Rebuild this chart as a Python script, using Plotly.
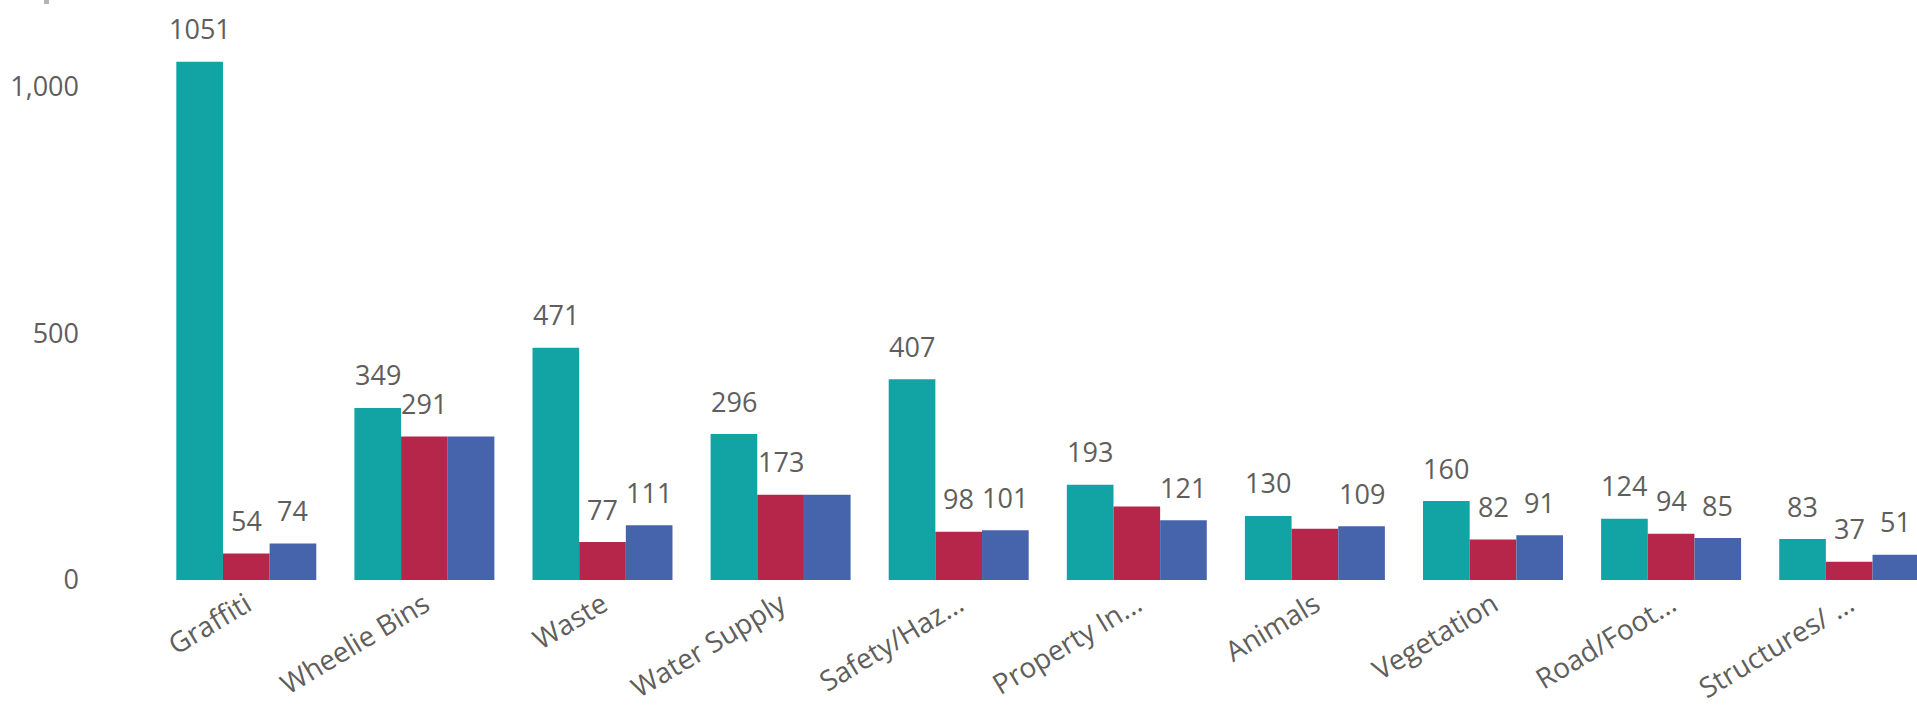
import plotly.graph_objects as go

# Service request counts by category, three series
categories = ["Graffiti", "Wheelie Bins", "Waste", "Water Supply", "Safety/Haz...",
              "Property In...", "Animals", "Vegetation", "Road/Foot...", "Structures/ ..."]
series_names = ["Series 1", "Series 2", "Series 3"]
series_1 = [1051, 349, 471, 296, 407, 193, 130, 160, 124, 83]
series_2 = [54, 291, 77, 173, 98, 149, 104, 82, 94, 37]
series_3 = [74, 291, 111, 173, 101, 121, 109, 91, 85, 51]
# data labels suppressed where they would collide with a neighbour: (series index, category index)
hidden_labels = {(2, 1), (2, 3), (1, 5), (1, 6)}

colors = ["#12A4A4", "#B5264A", "#4664AC"]
text_color = "#605E5C"
font_family = "Segoe UI, Open Sans, sans-serif"

W, H = 1917, 706
margin_l, margin_b = 90, 126
bargap = 0.214
unit_px = 178.1          # pixels per category step
first_center_px = 246.3  # pixel position of the first category centre

x0 = -(first_center_px - margin_l) / unit_px
x1 = x0 + (W - margin_l) / unit_px
y_top = (H - margin_b) / 0.4930

fig = go.Figure()
all_series = [series_1, series_2, series_3]
xs = list(range(len(categories)))
for k, (name, vals) in enumerate(zip(series_names, all_series)):
    fig.add_trace(go.Bar(x=xs, y=vals, name=name, marker_color=colors[k],
                         marker_line_width=0, hoverinfo="x+y"))

bar_w = (1 - bargap) / len(all_series)
annotations = []
for k, vals in enumerate(all_series):
    for i, v in enumerate(vals):
        if (k, i) in hidden_labels:
            continue
        annotations.append(dict(
            x=i + (k - 1) * bar_w, y=v, xref="x", yref="y",
            text=str(v), showarrow=False, yanchor="middle", yshift=33,
            font=dict(size=27, color=text_color, family=font_family)))

fig.update_layout(
    width=W, height=H,
    margin=dict(l=margin_l, r=0, t=0, b=margin_b, pad=0, autoexpand=False),
    paper_bgcolor="white", plot_bgcolor="white",
    barmode="group", bargap=bargap, bargroupgap=0,
    showlegend=False,
    annotations=annotations,
    font=dict(family=font_family, color=text_color),
    xaxis=dict(range=[x0, x1], tickmode="array", tickvals=xs, ticktext=categories,
               tickangle=-31, showgrid=False, zeroline=False, showline=False,
               automargin=False, ticks="", ticklabelstandoff=2,
               tickfont=dict(size=28, color=text_color)),
    yaxis=dict(range=[0, y_top], tickmode="array", tickvals=[0, 500, 1000],
               ticktext=["0", "500", "1,000"], showgrid=False, zeroline=False,
               showline=False, automargin=False, ticks="", ticklabelstandoff=10,
               tickfont=dict(size=27, color=text_color)),
    shapes=[dict(type="rect", xref="paper", yref="paper",
                 x0=(44 - margin_l) / (W - margin_l), x1=(49 - margin_l) / (W - margin_l),
                 y0=(H - margin_b - 4) / (H - margin_b), y1=1.0,
                 fillcolor="#B3B3B3", line_width=0, layer="above")],
)
fig.write_html("out.html")
